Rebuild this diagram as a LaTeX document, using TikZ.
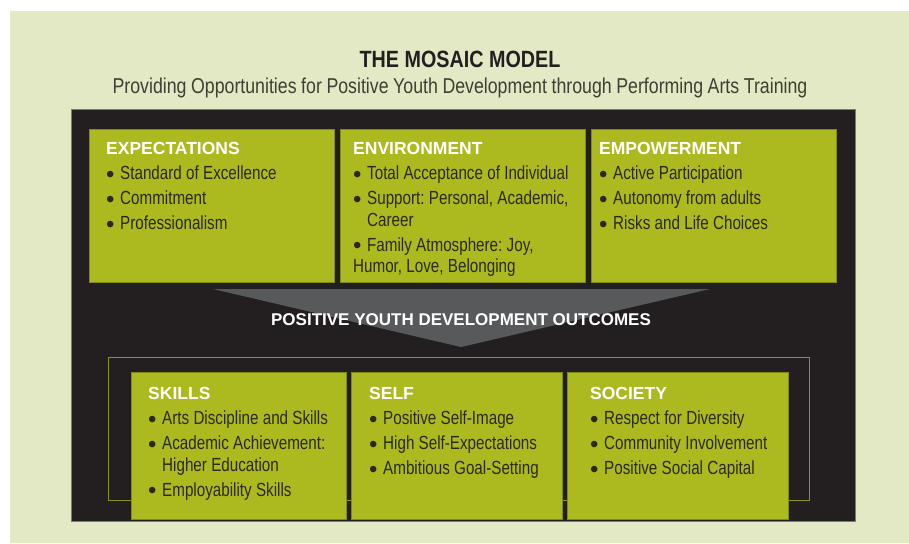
\documentclass[tikz,border=0pt]{standalone}
\usepackage{fontspec}
\setmainfont{Liberation Sans}[FakeStretch=0.8]
\newfontfamily\wideface{Liberation Sans}
\newfontfamily\titleface{Liberation Sans}[FakeStretch=0.84]
\newfontfamily\subface{Liberation Sans}[FakeStretch=0.825]
\definecolor{mosaicbg}{HTML}{E3E8C5}
\definecolor{mosaicdark}{HTML}{231F20}
\definecolor{mosaicolive}{HTML}{ADBA1F}
\definecolor{mosaicrim}{HTML}{7F8A1A}
\definecolor{mosaicgrey}{HTML}{58595B}
\definecolor{mosaicink}{HTML}{2A2A1C}
\frenchspacing
\newcommand\bitem[1]{\par\hangindent=14pt\hangafter=1\noindent\hbox to 14pt{\raisebox{-2.5pt}{\wideface\fontsize{24}{14}\selectfont\textbullet}\hss}#1}
\newcommand\tilehead[1]{\noindent{\wideface\bfseries\fontsize{17.5}{21.5}\selectfont\textcolor{white}{#1}}}
\newcommand\tightspace[1]{\spaceskip=#1\relax\xspaceskip=#1\relax}
\tikzset{
  tile/.style={draw=mosaicrim, line width=0.8pt, fill=mosaicolive, anchor=north west, inner sep=0pt},
  tiletext/.style={anchor=north west, inner sep=0pt, text width=260pt, align=left, text=mosaicink,
    font=\fontsize{19}{21.5}\selectfont,
    execute at begin node={\raggedright\tightspace{4.3pt}\setlength\parskip{3.5pt}},
    execute at end node={\par}},
}
\begin{document}
\begin{tikzpicture}[x=1pt, y=-1pt]
\useasboundingbox (0,0) rectangle (909,543);
\fill[mosaicbg] (10,11) rectangle (909,543);
\node[anchor=base, text=mosaicdark, font=\titleface\bfseries\fontsize{23.5}{25}\selectfont] (title) at (460,67) {THE MOSAIC MODEL};
\node[anchor=base, text=mosaicink!90, font=\subface\fontsize{21.5}{23}\selectfont] (subtitle) at (460,93) {\tightspace{4.6pt}Providing Opportunities for Positive Youth Development through Performing Arts Training};
\node[draw=mosaicrim, line width=1.2pt, fill=mosaicdark, anchor=north west, inner sep=0pt, minimum width=784pt, minimum height=412pt] (frame) at (71,109) {};
\node[tile, minimum width=245pt, minimum height=153pt] (exp) at (89,129) {};
\node[tile, minimum width=245pt, minimum height=153pt] (env) at (340,129) {};
\node[tile, minimum width=245pt, minimum height=153pt] (emp) at (591,129) {};
\node[tiletext] (exptext) at ([xshift=17pt, yshift=-13.5pt]exp.north west)
  {\tilehead{EXPECTATIONS}\bitem{Standard of Excellence}\bitem{Commitment}\bitem{Professionalism}};
\node[tiletext] (envtext) at ([xshift=13pt, yshift=-13.5pt]env.north west)
  {\tilehead{ENVIRONMENT}\bitem{Total Acceptance of Individual}\bitem{Support: Personal, Academic,\newline Career}\bitem{Family Atmosphere: Joy,\newline Humor, Love, Belonging}};
\node[tiletext] (emptext) at ([xshift=8pt, yshift=-13.5pt]emp.north west)
  {\tilehead{EMPOWERMENT}\bitem{Active Participation}\bitem{Autonomy from adults}\bitem{Risks and Life Choices}};
\fill[mosaicgrey] (213,289) -- (710,289) -- (461,347) -- cycle;
\node[anchor=base, text=white, font=\wideface\bfseries\fontsize{17}{20}\selectfont] (outcomes) at (461,325) {POSITIVE YOUTH DEVELOPMENT OUTCOMES};
\draw[mosaicrim!80!mosaicolive, line width=1pt] (108,357) rectangle (809,500);
\node[tile, minimum width=215pt, minimum height=147pt] (skills) at (131,372) {};
\node[tile, minimum width=211pt, minimum height=147pt] (self) at (351,372) {};
\node[tile, minimum width=221pt, minimum height=147pt] (society) at (567,372) {};
\node[tiletext] (skillstext) at ([xshift=17pt, yshift=-15.5pt]skills.north west)
  {\tilehead{SKILLS}\bitem{Arts Discipline and Skills}\bitem{Academic Achievement:\newline Higher Education}\bitem{Employability Skills}};
\node[tiletext] (selftext) at ([xshift=18pt, yshift=-15.5pt]self.north west)
  {\tilehead{SELF}\bitem{Positive Self-Image}\bitem{High Self-Expectations}\bitem{Ambitious Goal-Setting}};
\node[tiletext] (societytext) at ([xshift=23pt, yshift=-15.5pt]society.north west)
  {\tilehead{SOCIETY}\bitem{Respect for Diversity}\bitem{Community Involvement}\bitem{Positive Social Capital}};
\end{tikzpicture}
\end{document}
